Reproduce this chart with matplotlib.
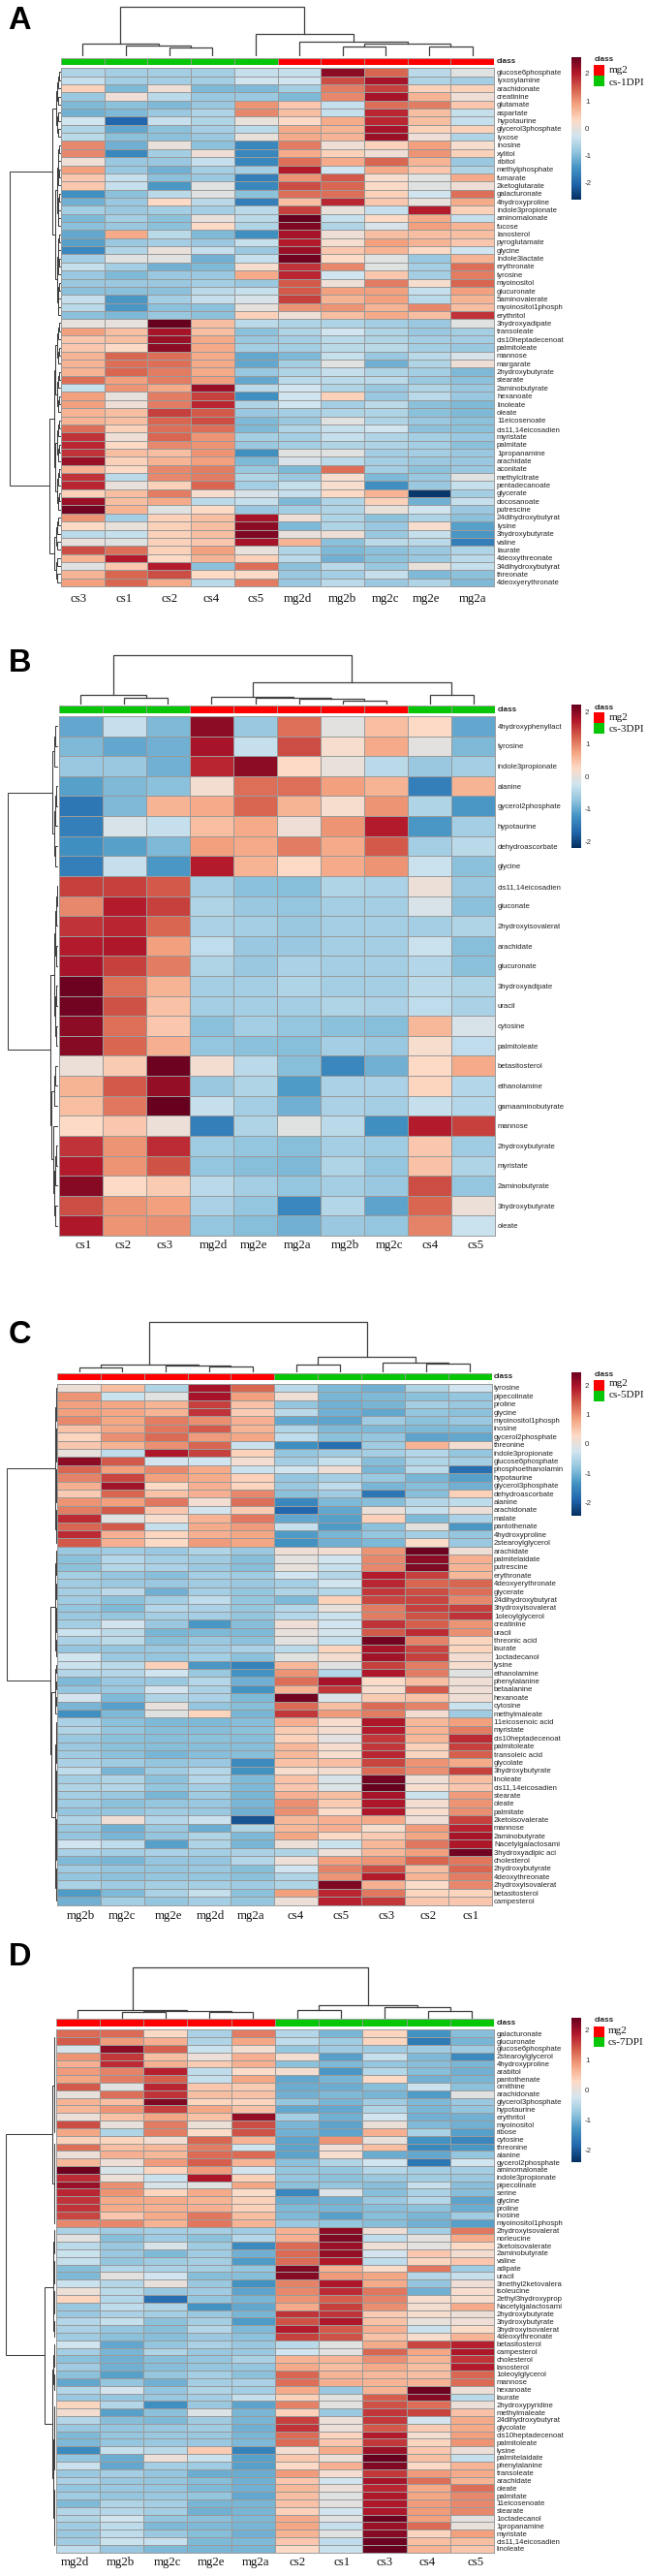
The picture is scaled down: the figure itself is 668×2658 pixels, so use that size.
import numpy as np
import matplotlib
matplotlib.use("Agg")
import matplotlib.pyplot as plt
from matplotlib.colors import LinearSegmentedColormap
from matplotlib.patches import Rectangle

W, H = 668, 2658
SANS = ["Liberation Sans"]
SERIF = ["Liberation Serif"]
RED = "#ff0000"
GREEN = "#06c606"
GRID = "#9a9a9a"
LINE = "#3f3f3f"
# brewer RdBu with 10 classes, this is why zero looks greyish
CMAP = LinearSegmentedColormap.from_list("rb", ["#053061", "#2166ac", "#4393c3", "#92c5de", "#d1e5f0",
                                                "#fddbc7", "#f4a582", "#d6604d", "#b2182b", "#67001f"])

# values were read by colour against the +-2.6 bar of panel A
READ_LIM = 2.6

cols_a = ["cs3", "cs1", "cs2", "cs4", "cs5", "mg2d", "mg2b", "mg2c", "mg2e", "mg2a"]
rows_a = ["glucose6phosphate", "lyxosylamine", "arachidonate", "creatinine", "glutamate", "aspartate",
          "hypotaurine", "glycerol3phosphate", "lyxose", "inosine", "xylitol", "ribitol", "methylphosphate",
          "fumarate", "2ketoglutarate", "galacturonate", "4hydroxyproline", "indole3propionate",
          "aminomalonate", "fucose", "lanosterol", "pyroglutamate", "glycine", "indole3lactate", "erythronate",
          "tyrosine", "myoinositol", "glucuronate", "5aminovalerate", "myoinositol1phosph", "erythritol",
          "3hydroxyadipate", "transoleate", "cis10heptadecenoat", "palmitoleate", "mannose", "margarate",
          "2hydroxybutyrate", "stearate", "2aminobutyrate", "hexanoate", "linoleate", "oleate", "11eicosenoate",
          "cis11,14eicosadien", "myristate", "palmitate", "1propanamine", "arachidate", "aconitate",
          "methylcitrate", "pentadecanoate", "glycerate", "docosanoate", "putrescine", "24dihydroxybutyrat",
          "lysine", "3hydroxybutyrate", "valine", "laurate", "4deoxythreonate", "34dihydroxybutyrat",
          "threonate", "4deoxyerythronate"]
vals_a = [
    [-0.6, -0.7, -0.7, -0.7, -0.4, -0.4, 2.3, 1.4, -0.5, -0.1],
    [-0.4, -0.7, -0.7, -0.7, -0.3, -0.3, 1.6, 2.1, -0.6, -0.7],
    [0.4, -1.0, 0.1, -1.0, -1.0, -0.7, 1.2, 1.7, 0.4, 0.4],
    [-0.8, 0.1, -0.5, -0.8, -0.8, -1.0, 1.1, 2.1, 0.7, 0.1],
    [-1.0, -0.9, -1.0, -0.8, 1.0, 0.5, -0.4, 1.3, 1.2, 0.5],
    [-1.1, -1.0, -0.8, -0.6, 1.1, 0.6, -0.4, 1.9, 0.6, -0.4],
    [-0.3, -2.0, -0.4, -0.6, 0.0, 0.3, 0.8, 1.9, 0.6, -0.4],
    [-0.6, -1.2, -0.9, -0.7, -0.5, 0.8, 0.7, 2.1, 0.4, 0.4],
    [-0.5, -0.9, -0.9, -0.8, 0.0, 0.8, 0.7, 2.2, 0.1, -0.6],
    [1.1, -1.1, 0.0, -0.9, -1.6, 1.2, 0.1, 0.4, 0.9, 0.2],
    [1.1, -1.6, -0.7, 0.1, -1.6, 0.8, 0.4, 0.1, 1.0, 0.4],
    [0.1, -0.8, -0.8, -0.4, -1.6, 1.3, 0.8, 1.4, 0.7, -0.8],
    [0.9, -0.8, -1.1, -0.7, -0.7, 2.0, -0.3, 0.8, 0.5, -0.6],
    [0.5, -0.4, -0.9, -0.8, -1.7, 1.0, 1.5, 0.2, -0.1, 0.8],
    [0.5, -0.4, -1.4, -0.1, -1.6, 1.6, 1.4, 0.3, -0.1, 0.1],
    [-1.5, -0.9, -0.5, -0.1, -0.9, 1.3, 1.3, 0.4, -0.3, 1.3],
    [-1.1, -0.8, 0.3, -0.5, -1.7, 0.6, 1.9, 0.5, 0.0, 0.8],
    [-0.7, -0.8, -0.7, -0.7, -0.5, 1.7, 0.0, -0.4, 2.0, 0.4],
    [-1.0, -0.7, -0.9, 0.0, -0.5, 2.6, -0.4, 0.3, 0.8, -0.4],
    [-0.9, -0.8, -0.9, 0.3, -0.6, 2.4, -0.6, -0.2, 0.9, 0.7],
    [-1.2, 0.8, -0.5, -1.0, -1.5, 2.1, 0.1, 0.6, 0.6, 0.6],
    [-1.3, -0.8, -0.7, -0.8, -0.4, 2.0, 0.2, 0.9, 0.7, 0.5],
    [-1.6, -0.6, 0.0, -0.4, -0.8, 2.2, 0.5, 0.7, 0.3, -0.3],
    [-0.7, -0.1, -0.1, -1.1, -0.4, 2.5, 0.3, -0.1, -0.8, 0.7],
    [-0.4, -0.7, -1.1, -1.0, 0.2, 1.8, 1.1, -0.1, -0.7, 1.3],
    [-0.8, -1.0, -0.8, -0.8, 0.8, 1.9, -0.3, 0.5, -0.7, 1.2],
    [-0.8, -0.8, -0.8, -0.7, -0.8, 1.5, 0.1, 1.2, 0.2, 1.4],
    [-0.9, -0.9, -0.9, -0.5, -0.4, 1.5, 0.9, 0.9, -0.4, 0.9],
    [-0.4, -1.4, -0.7, -0.4, -0.2, 1.7, 0.7, 0.9, -0.5, 0.7],
    [-0.5, -1.4, -0.9, -0.9, 0.0, 1.0, 1.0, 0.7, 1.1, 0.6],
    [-0.9, -1.0, -0.8, -0.9, 0.4, 0.1, 0.6, 0.8, 0.6, 1.8],
    [0.0, 0.0, 2.6, 0.6, -0.5, -0.6, -0.6, -0.7, -0.8, -0.1],
    [0.9, 0.6, 2.1, 0.6, -0.9, -0.6, -0.3, -0.6, -0.8, -0.7],
    [0.5, 0.6, 2.2, 0.8, -0.8, -0.7, -0.5, -0.6, -0.7, -0.7],
    [0.5, 0.3, 2.3, 0.8, -0.7, -0.7, -0.5, -0.5, -0.7, -0.8],
    [0.7, 1.4, 1.3, 0.8, -1.2, -1.0, -0.4, -0.8, -0.5, -0.2],
    [0.7, 1.3, 1.3, 0.8, -1.2, -0.7, -0.1, -1.1, -0.6, 0.1],
    [0.7, 1.4, 1.2, 0.8, -0.8, -0.6, -0.4, -0.6, -0.7, -1.0],
    [1.3, 0.9, 1.2, 0.9, -1.2, -0.5, -0.5, -0.5, -0.8, -0.9],
    [-0.4, 1.0, 0.8, 2.2, -0.5, -0.3, -0.6, -0.8, -0.6, -0.8],
    [0.9, 0.0, 1.2, 1.7, -1.5, -0.3, 0.4, -0.8, -0.5, -0.8],
    [0.9, 0.1, 1.2, 1.9, -0.6, -0.3, -0.7, -0.5, -0.9, -1.0],
    [0.7, 0.6, 1.7, 1.5, -0.8, -0.7, -0.6, -0.6, -0.9, -1.0],
    [0.7, 0.6, 1.4, 1.6, -1.0, -0.8, -0.1, -0.6, -0.8, -0.9],
    [1.3, 0.4, 1.3, 1.3, -1.0, -0.6, -0.4, -0.3, -0.9, -0.9],
    [1.8, 0.1, 1.4, 1.0, -0.7, -0.7, -0.4, -0.6, -0.7, -0.8],
    [1.9, 0.3, 1.1, 1.0, -0.8, -0.7, -0.6, -0.6, -0.7, -0.9],
    [1.8, 0.6, 0.6, 1.0, -1.5, -0.1, -0.1, -0.7, -0.7, -0.8],
    [2.2, 0.4, 0.7, 0.9, -1.0, -0.2, -0.5, -0.7, -0.8, -0.8],
    [0.7, 0.3, 1.1, 1.2, -0.8, -1.0, 1.3, -0.7, -0.9, -0.8],
    [1.8, -0.5, 1.1, 1.2, -0.6, -0.8, 0.2, -1.0, -0.8, -0.1],
    [1.9, 0.0, 0.4, 1.4, -0.7, -0.4, 0.2, -1.5, -0.8, -0.4],
    [0.4, 0.6, 1.2, 0.2, -0.2, -0.4, 0.3, 0.7, -2.5, -0.7],
    [2.2, 0.6, 0.8, -0.5, -0.4, -1.0, -0.6, 0.4, -1.1, -0.4],
    [2.5, 0.7, -0.1, 0.3, -0.8, -0.7, -0.6, 0.0, -0.3, -0.8],
    [1.0, -0.7, 0.4, 0.6, 2.1, 0.1, -0.6, -0.9, -0.6, -0.9],
    [0.3, 0.0, 0.4, 0.6, 2.3, -1.0, -0.6, -0.8, 0.2, -1.3],
    [-0.5, -0.4, 0.4, 0.6, 2.4, 0.0, 0.1, -0.8, -0.4, -1.4],
    [0.0, -0.1, 0.4, 0.5, 2.1, 0.7, -0.9, -0.5, -0.5, -1.7],
    [1.6, 1.3, 0.4, 0.9, 0.0, -0.6, -1.0, -0.9, -0.8, -0.6],
    [0.7, 2.0, 0.3, 0.7, 0.4, -0.5, -1.1, -0.9, -0.8, -0.5],
    [-0.1, 0.5, 2.0, -0.9, 1.3, -0.9, -0.5, -0.8, 0.0, -0.4],
    [0.7, 1.4, 1.6, 0.3, 0.3, -0.8, -0.7, -0.4, -1.0, -0.9],
    [0.9, 1.4, 0.8, -0.5, 1.2, -0.8, -0.5, -0.8, -0.6, -1.0],
]

cols_b = ["cs1", "cs2", "cs3", "mg2d", "mg2e", "mg2a", "mg2b", "mg2c", "cs4", "cs5"]
rows_b = ["4hydroxyphenyllact", "tyrosine", "indole3propionate", "alanine", "gycerol2phosphate", "hypotaurine",
          "dehydroascorbate", "glycine", "cis11,14eicosadien", "gluconate", "2hydroxyisovalerat", "arachidate",
          "glucuronate", "3hydroxyadipate", "uracil", "cytosine", "palmitoleate", "betasitosterol", "ethanolamine",
          "gamaaminobutyrate", "mannose", "2hydroxybutyrate", "myristate", "2aminobutyrate", "3hydroxybutyrate",
          "oleate"]
vals_b = [
    [-1.2, -0.4, -1.0, 2.3, -0.8, 1.3, -0.05, 0.6, 0.3, -1.2],
    [-1.0, -1.2, -1.1, 2.1, -0.4, 1.6, 0.2, 0.8, -0.05, -1.0],
    [-0.8, -0.8, -1.1, 1.9, 2.3, 0.3, 0.0, -0.5, -0.8, -0.7],
    [-1.3, -1.0, -0.9, 0.15, 1.3, 1.3, 0.9, 0.7, -1.7, 0.7],
    [-1.8, -1.0, 0.7, 0.8, 1.4, 0.7, 0.2, 1.0, -0.6, -1.4],
    [-1.7, -0.2, -0.4, 0.6, 0.8, 0.1, 1.0, 2.0, -1.4, -0.7],
    [-1.5, -1.3, -1.0, 0.9, 0.8, 1.2, 0.8, 1.5, -0.7, -0.5],
    [-1.7, -0.4, -1.4, 2.0, 0.7, 0.3, 0.8, 1.0, -0.35, -0.9],
    [1.7, 1.7, 1.5, -0.7, -0.9, -0.95, -0.6, -0.65, 0.05, -0.8],
    [1.1, 2.0, 1.7, -0.6, -0.8, -0.85, -0.7, -0.7, -0.2, -0.9],
    [1.8, 1.9, 1.4, -0.65, -0.7, -0.8, -0.7, -0.7, -0.7, -0.6],
    [2.0, 2.05, 0.9, -0.45, -0.8, -0.8, -0.7, -0.7, -0.35, -0.95],
    [2.1, 1.7, 1.2, -0.6, -0.8, -0.65, -0.7, -0.7, -0.55, -0.9],
    [2.55, 1.3, 0.7, -0.7, -0.7, -0.6, -0.7, -0.7, -0.5, -0.6],
    [2.5, 1.55, 0.55, -0.7, -0.7, -0.7, -0.6, -0.65, -0.45, -0.65],
    [2.3, 1.3, 0.5, -0.9, -0.7, -0.85, -0.9, -0.95, 0.65, -0.2],
    [2.35, 1.4, 0.75, -0.85, -0.9, -0.95, -0.7, -0.8, 0.2, -0.45],
    [0.05, 0.45, 2.55, 0.15, -0.5, -0.95, -1.6, -1.1, 0.3, 0.8],
    [0.7, 1.5, 2.25, -0.8, -0.6, -1.35, -0.65, -0.65, 0.35, -0.55],
    [0.6, 1.25, 2.6, -0.4, -0.7, -1.1, -0.65, -0.7, -0.4, -0.55],
    [0.3, 0.5, 0.05, -1.7, -0.6, -0.1, -0.5, -1.5, 2.0, 1.7],
    [1.8, 1.0, 1.85, -0.75, -0.85, -0.95, -0.7, -0.75, 0.5, -0.75],
    [2.0, 1.0, 1.55, -0.85, -0.95, -1.0, -0.6, -0.85, 0.55, -0.6],
    [2.35, 0.3, 0.45, -0.5, -0.7, -0.85, -0.7, -0.8, 1.6, -0.85],
    [1.6, 1.0, 0.9, -0.65, -0.85, -1.6, -0.55, -1.25, 1.4, 0.05],
    [2.05, 1.0, 1.05, -0.85, -0.95, -1.1, -0.8, -0.85, 1.15, -0.35],
]

cols_c = ["mg2b", "mg2c", "mg2e", "mg2d", "mg2a", "cs4", "cs5", "cs3", "cs2", "cs1"]
rows_c = ["tyrosine", "pipecolinate", "proline", "glycine", "myoinositol1phosph", "inosine", "gycerol2phosphate",
          "threonine", "indole3propionate", "glucose6phosphate", "phosphoethanolamin", "hypotaurine",
          "glycerol3phosphate", "dehydroascorbate", "alanine", "arachidonate", "malate", "pantothenate",
          "4hydroxyproline", "2stearoylglycerol", "arachidate", "palmitelaidate", "putrescine", "erythronate",
          "4deoxyerythronate", "glycerate", "24dihydroxybutyrat", "3hydroxyisovalerat", "1oleoylglycerol",
          "creatinine", "uracil", "threonic acid", "laurate", "1octadecanol", "lysine", "ethanolamine",
          "phenylalanine", "betaalanine", "hexanoate", "cytosine", "methylmaleate", "11eicosenoic acid", "myristate",
          "cis10heptadecenoat", "palmitoleate", "transoleic acid", "glycolate", "3hydroxybutyrate", "linoleate",
          "cis11,14eicosadien", "stearate", "oleate", "palmitate", "2ketoisovalerate", "mannose", "2aminobutyrate",
          "Nacetylgalactosami", "3hydroxyadipic aci", "cholesterol", "2hydroxybutyrate", "4deoxythreonate",
          "2hydroxyisovalerat", "betasitosterol", "campesterol"]
vals_c = [
    [0.05, 0.6, -0.6, 2.1, 1.4, -0.5, -1.0, -1.1, -0.6, -0.3],
    [1.0, -0.35, -0.1, 2.1, 0.9, 0.1, -1.05, -1.0, -0.9, -0.85],
    [0.9, 0.85, 0.7, 1.7, 0.55, -0.85, -1.1, -1.05, -0.7, -0.8],
    [0.9, 0.85, 0.7, 1.8, 0.45, -0.5, -1.1, -1.2, -0.85, -0.9],
    [1.1, 0.85, 1.2, 1.05, 0.75, -1.2, -1.25, -0.75, -0.9, -0.8],
    [0.55, 0.85, 1.25, 1.5, 0.7, -0.6, -1.0, -1.0, -1.0, -1.0],
    [0.35, 1.05, 1.35, 0.95, 0.85, -0.45, -0.9, -0.85, -1.25, -1.2],
    [0.5, 0.7, 1.05, 1.4, -0.35, -1.5, -1.9, -0.75, 0.7, 0.15],
    [0.0, -0.45, 2.05, 1.7, 0.4, -0.85, -0.75, -0.7, -0.55, -0.85],
    [2.3, 1.5, -0.25, -0.3, 0.15, -0.7, -0.4, -0.95, -0.6, -0.7],
    [1.4, 0.9, 1.1, 0.8, -0.35, -0.3, 0.1, -1.05, -0.5, -1.9],
    [1.15, 1.65, 0.9, 0.8, 0.4, -0.85, -0.7, -0.8, -1.05, -1.3],
    [0.75, 2.15, 0.3, 0.75, 0.35, -0.8, -0.45, -1.05, -0.95, -1.1],
    [0.45, 1.4, 0.55, 0.75, 1.1, -0.9, -0.75, -1.8, -0.95, 0.4],
    [1.0, 0.9, 1.25, 0.15, 1.3, -1.6, -1.0, -0.95, -0.55, -0.45],
    [1.2, 1.5, 0.5, -0.25, 0.45, -2.0, -1.2, 0.05, -0.4, 0.05],
    [1.85, -0.1, 0.2, 0.7, 1.25, -1.2, -1.3, 0.4, -1.0, -0.65],
    [1.4, 1.5, -0.4, 0.8, 0.95, -0.4, -1.35, -0.9, -0.05, -1.4],
    [1.85, 0.75, 0.35, 0.75, 0.85, -1.35, -1.05, -0.85, -0.7, -0.85],
    [1.5, 0.75, 0.3, 0.95, 0.85, -1.45, -1.1, -1.0, 0.25, -0.8],
    [-0.8, -0.75, -0.8, -0.6, -0.8, 0.1, 0.15, 1.0, 2.55, 0.1],
    [-0.9, -0.55, -0.7, -0.75, -0.95, -0.05, -0.3, 1.1, 2.3, 0.75],
    [-0.9, -0.55, -0.65, -0.8, -0.95, 0.0, -0.4, 1.1, 2.4, 0.7],
    [-0.7, -0.85, -0.95, -0.7, -0.75, -0.3, -0.55, 2.0, 1.7, 0.65],
    [-0.75, -0.8, -0.8, -0.75, -0.8, -0.7, -0.3, 1.9, 1.4, 1.4],
    [-0.7, -0.5, -1.1, -0.7, -0.85, -0.6, -0.55, 1.75, 1.6, 1.3],
    [-0.75, -0.9, -0.7, -0.45, -0.85, -1.0, 0.4, 1.65, 1.65, 1.1],
    [-0.85, -1.0, -0.55, -0.65, -0.85, -0.55, 0.0, 1.2, 1.7, 1.7],
    [-0.8, -0.85, -0.7, -0.7, -0.85, -0.55, -0.35, 1.2, 1.55, 1.8],
    [-0.7, -0.25, -0.8, -1.4, -0.95, 0.1, -0.3, 1.8, 1.45, 1.0],
    [-0.35, -0.5, -1.05, -1.0, -1.0, 0.0, -0.25, 1.5, 1.85, 1.05],
    [-0.65, -0.5, -0.95, -0.8, -0.9, -0.05, -0.4, 2.5, 1.15, 0.35],
    [-0.85, -0.85, -0.8, -0.75, -0.65, -0.5, 0.35, 2.1, 1.65, 0.35],
    [-0.3, -0.8, -0.85, -0.7, -0.9, -0.1, 0.15, 2.15, 1.7, 0.15],
    [-0.35, -0.5, 0.4, -1.4, -1.65, 0.65, -0.1, 1.7, 1.2, 0.2],
    [-0.55, -0.55, -0.3, -0.8, -1.45, 1.0, -0.55, 2.05, 1.2, -0.1],
    [-1.0, -0.8, -0.8, -0.55, -1.1, 1.3, 2.1, 0.25, 0.6, 0.1],
    [-0.85, -0.8, -0.25, -0.65, -1.45, 0.7, 1.75, 0.2, 1.5, 0.1],
    [-0.25, -1.0, -0.6, -0.65, -1.0, 2.5, -0.15, 0.45, 0.55, 0.1],
    [-1.05, -1.3, 0.0, -0.85, -0.95, 1.35, 0.6, 1.35, 1.15, -0.35],
    [-1.5, -1.0, -0.1, 0.35, -1.05, 1.75, 0.95, 1.2, 0.15, -0.75],
    [-0.65, -0.9, -1.0, -1.0, -0.95, 0.75, 0.2, 2.05, 0.65, 0.9],
    [-0.6, -0.85, -0.95, -0.95, -0.9, 0.45, 0.15, 2.0, 0.7, 1.2],
    [-0.8, -0.9, -0.95, -0.9, -0.95, 0.4, -0.05, 1.75, 0.65, 1.85],
    [-0.8, -0.9, -0.95, -0.95, -0.95, 0.65, 0.2, 1.75, 0.4, 1.7],
    [-0.75, -0.9, -1.05, -0.95, -0.95, 0.65, 0.2, 1.9, 0.35, 1.45],
    [-0.65, -0.75, -0.85, -0.8, -1.55, 0.55, 0.6, 1.65, 1.0, 0.8],
    [-0.45, -1.05, -0.75, -0.55, -1.45, 0.2, 0.15, 1.35, 1.05, 1.7],
    [-0.7, -0.6, -0.9, -0.55, -1.0, 0.55, -0.2, 2.5, 0.1, 0.6],
    [-0.6, -0.55, -0.85, -0.7, -1.0, 0.5, -0.15, 2.6, 0.2, 0.5],
    [-0.7, -0.8, -1.05, -0.75, -1.05, 0.75, 0.6, 2.1, -0.35, 0.95],
    [-0.75, -0.9, -0.85, -0.8, -1.05, 1.05, 0.45, 2.05, 0.15, 1.0],
    [-0.85, -0.85, -0.75, -0.8, -1.1, 1.05, 0.25, 2.05, 0.2, 1.05],
    [-0.6, 0.1, -0.55, -0.35, -2.2, 0.65, 0.75, 0.8, 0.1, 1.7],
    [-0.8, -1.1, -0.8, -1.15, -0.6, 0.65, 0.75, 0.2, 0.95, 1.95],
    [-0.85, -1.05, -0.85, -0.6, -1.0, 0.85, 0.3, 0.45, 0.85, 2.1],
    [-0.3, -0.45, -1.3, -0.6, -1.05, 0.05, -0.35, 0.65, 1.25, 2.05],
    [-0.65, -0.7, -0.65, -0.7, -0.65, -0.6, 0.05, 0.65, 0.9, 2.5],
    [-1.0, -1.05, -0.85, -0.85, -0.55, 0.05, 0.9, 1.0, 1.4, 1.25],
    [-0.75, -0.85, -0.85, -0.8, -0.95, -0.3, 1.15, 1.6, 0.6, 1.4],
    [-0.85, -0.9, -0.85, -0.85, -0.9, -0.6, 1.0, 2.0, 0.7, 1.2],
    [-0.65, -0.75, -0.7, -0.7, -0.75, -0.6, 2.4, 0.75, 0.25, 1.1],
    [-1.35, -1.0, -0.65, -0.4, -0.9, 0.9, 1.9, 1.25, 0.35, 0.35],
    [-1.1, -0.7, -0.85, -0.7, -0.85, 0.05, 1.95, 1.75, 0.5, 0.5],
]

cols_d = ["mg2d", "mg2b", "mg2c", "mg2e", "mg2a", "cs2", "cs1", "cs3", "cs4", "cs5"]
rows_d = ["galacturonate", "glucuronate", "glucose6phosphate", "2stearoylglycerol", "4hydroxyproline", "arabitol",
          "pantothenate", "ornithine", "arachidonate", "glycerol3phosphate", "hypotaurine", "erythritol",
          "myoinositol", "ribose", "cytosine", "threonine", "alanine", "gycerol2phosphate", "aminomalonate",
          "indole3propionate", "pipecolinate", "serine", "glycine", "proline", "inosine", "myoinositol1phosph",
          "2hydroxyisovalerat", "norleucine", "2ketoisovalerate", "2aminobutyrate", "valine", "adipate", "uracil",
          "3methyl2ketovalera", "isoleucine", "2ethyl3hydroxyprop", "Nacetylgalactosami", "2hydroxybutyrate",
          "3hydroxybutyrate", "3hydroxyisovalerat", "4deoxythreonate", "betasitosterol", "campesterol",
          "cholesterol", "lanosterol", "1oleoylglycerol", "mannose", "hexanoate", "laurate", "2hydroxypyridine",
          "methylmaleate", "24dihydroxybutyrat", "glycolate", "cis10heptadecenoat", "palmitoleate", "lysine",
          "palmitelaidate", "phenylalanine", "transoleate", "arachidate", "oleate", "palmitate", "11eicosenoate",
          "stearate", "1octadecanol", "1propanamine", "myristate", "cis11,14eicosadien", "linoleate"]
vals_d = [
    [1.35, 1.35, 0.3, -0.65, 1.2, -0.55, -1.05, 0.35, -1.45, -0.95],
    [1.5, 0.95, 0.75, -0.6, 0.85, -0.45, -0.75, 0.35, -1.75, -1.05],
    [-0.2, 2.3, 1.45, -0.35, 0.15, -0.85, -0.75, -0.75, -0.75, -0.75],
    [1.0, 1.75, 0.6, 0.05, 0.75, 0.15, -1.3, -0.4, -1.0, -1.55],
    [0.75, 1.85, 0.75, 0.45, 0.75, -0.9, -1.0, -0.85, -0.95, -1.05],
    [0.95, 1.15, 1.95, -0.45, 0.25, 0.15, -1.4, -0.55, -0.95, -1.1],
    [0.85, 1.2, 1.45, -0.4, 0.85, -1.2, -1.05, 0.3, -1.1, -1.05],
    [1.5, -0.1, 1.9, 0.5, 0.45, -1.15, -1.15, -0.95, -0.35, -0.9],
    [0.0, 1.3, 1.8, 0.6, 0.55, -1.1, -1.0, -1.05, -1.35, -0.1],
    [0.7, 0.6, 2.4, 0.35, 0.35, -0.85, -1.05, -0.75, -1.0, -0.8],
    [0.65, 1.0, 1.7, 0.85, 0.55, -1.2, -1.2, -0.6, -1.05, -0.85],
    [0.05, 0.55, 0.85, 0.55, 2.25, -0.7, -1.1, -0.3, -1.1, -1.1],
    [1.6, 0.0, 1.2, 0.05, 1.6, -1.05, -1.25, 0.05, -1.0, -1.1],
    [0.85, -0.6, 1.2, 0.25, 1.55, -1.1, -1.25, 0.75, -0.65, -1.3],
    [0.4, 0.35, 0.15, 1.4, 0.7, -1.25, 1.0, 0.0, -1.45, -1.6],
    [1.3, 0.6, 0.65, 1.2, -0.3, -1.25, 0.1, 0.6, -1.6, -1.4],
    [0.05, 0.75, 0.65, 1.35, 1.35, -1.25, 0.2, -1.15, -1.2, -0.85],
    [0.65, 0.1, 0.95, 1.45, 0.7, -0.9, -0.6, -0.3, -1.8, -0.3],
    [2.55, -0.2, 0.35, 0.95, -0.25, -0.85, -0.85, -0.55, -0.7, -0.7],
    [1.85, 0.05, -0.35, 2.05, 0.4, -0.85, -0.9, -0.8, -0.75, -0.8],
    [2.2, 1.05, -0.2, -0.1, 0.85, -0.9, -0.85, -0.95, -0.4, -0.95],
    [1.9, 1.0, 0.35, 0.8, 0.25, -1.6, -0.15, -0.95, -0.65, -0.95],
    [1.8, 0.8, 0.8, 0.7, 0.4, -1.15, -1.1, -0.8, -0.55, -1.25],
    [1.8, 0.8, 0.75, 0.75, 0.4, -1.0, -1.05, -0.95, -0.9, -1.15],
    [1.65, 0.5, 0.8, 1.25, 0.6, -1.0, -1.3, -0.95, -1.05, -0.75],
    [1.1, 1.1, 0.7, 1.25, 0.7, -0.8, -0.85, -0.95, -1.1, -1.3],
    [-0.65, -0.75, -0.7, -0.7, -0.75, 0.75, 2.3, 0.1, -0.7, 1.25],
    [-0.05, -0.95, -0.75, -0.9, -0.55, 0.75, 2.4, -0.45, -0.05, 0.8],
    [-0.5, -0.8, -0.2, -0.75, -1.55, 1.35, 2.2, 0.1, -0.05, 0.3],
    [-0.35, -0.8, -1.0, -0.75, -1.1, 1.35, 2.25, -0.25, 0.5, 0.15],
    [-0.4, -0.85, -0.75, -0.7, -1.35, 1.35, 2.05, -0.45, 0.35, 0.5],
    [-0.95, -0.55, -0.65, -0.7, -0.85, 2.4, 0.75, 0.25, 1.25, -0.75],
    [-1.0, -0.05, -0.3, -0.95, -0.95, 2.35, 0.95, 0.85, -0.55, -0.4],
    [-0.35, -0.55, 0.0, -0.8, -1.45, 1.15, 2.05, 0.8, -0.85, 0.1],
    [0.05, -0.5, -0.8, -0.75, -1.25, 1.1, 1.85, 1.25, -1.1, 0.2],
    [0.35, -0.55, -1.9, -0.85, -1.05, 1.0, 1.45, 1.15, 0.2, 0.2],
    [-0.8, -0.45, -0.6, -1.45, -1.2, 0.8, 1.7, 1.05, 0.15, 0.8],
    [-0.8, -0.65, -0.7, -0.8, -1.05, 1.8, 1.8, 0.45, 0.2, 0.05],
    [-0.55, -0.4, -0.9, -0.7, -1.35, 1.55, 2.05, 0.55, 0.0, 0.1],
    [-0.65, -0.85, -0.95, -0.55, -1.0, 2.0, 1.5, 0.75, -0.35, 0.25],
    [-0.75, -0.9, -0.95, -0.8, -0.9, 1.7, 1.55, 0.55, 0.2, 0.7],
    [-0.3, -1.2, -0.85, -0.65, -0.8, -0.5, -0.1, 0.8, 1.65, 1.95],
    [-0.7, -1.05, -0.6, -0.8, -0.8, -0.3, -0.05, 1.4, 0.85, 2.05],
    [-0.9, -1.1, -0.95, -0.85, -0.65, 0.7, 0.7, 1.05, 0.7, 1.8],
    [-0.75, -1.1, -0.95, -0.85, -0.85, 0.8, 0.6, 0.8, 0.6, 2.0],
    [-0.9, -1.3, -0.85, -0.7, -0.9, 1.4, 0.7, 0.65, 0.6, 1.4],
    [-1.2, -0.85, -1.1, -0.7, -0.65, 1.3, 0.75, 0.7, 0.7, 1.35],
    [-0.55, -0.25, -0.85, -0.6, -0.7, 0.8, -0.8, 0.7, 2.55, 0.05],
    [-0.8, -0.85, -0.8, -0.7, -0.4, 0.4, -0.05, 1.45, 2.35, -0.5],
    [0.35, -0.55, -1.5, -0.8, -1.25, 1.15, -0.05, 1.55, 1.3, 0.05],
    [0.15, -1.3, -0.9, -0.15, -1.05, 0.4, -0.8, 1.75, 1.65, 0.55],
    [-0.55, -0.95, -1.0, -0.75, -1.05, 1.7, 0.05, 1.75, -0.25, 0.8],
    [-0.8, -0.85, -0.8, -0.75, -1.1, 1.8, 0.05, 1.5, 0.45, 0.8],
    [-1.0, -0.85, -0.8, -0.8, -1.05, 1.35, 0.35, 2.0, 0.15, 0.9],
    [-1.0, -0.85, -0.8, -0.8, -1.0, 1.35, 0.5, 1.75, 0.35, 1.0],
    [-1.55, -0.4, -0.5, 0.45, -1.65, 0.15, 0.8, 2.2, 0.5, 0.05],
    [-0.85, -1.15, 0.05, -0.35, -1.3, 0.5, 0.05, 2.6, 0.6, -0.4],
    [-0.35, -1.2, -0.7, -0.75, -1.3, 0.3, 0.75, 2.4, 0.3, 0.7],
    [-0.8, -0.7, -0.85, -1.15, -1.15, 0.95, 0.15, 1.75, 0.95, 0.8],
    [-0.65, -0.8, -0.85, -0.95, -1.1, 0.5, -0.3, 2.1, 1.3, 0.7],
    [-0.85, -0.8, -0.85, -1.0, -1.1, 0.65, 0.05, 1.9, 0.8, 1.3],
    [-0.75, -0.85, -0.8, -0.85, -1.2, 0.6, -0.1, 2.05, 0.85, 1.1],
    [-1.0, -0.6, -0.7, -1.05, -1.05, 0.55, -0.05, 2.05, 0.95, 1.1],
    [-0.55, -0.55, -0.7, -1.1, -1.05, 0.4, -0.3, 2.05, 0.95, 1.1],
    [-0.6, -0.3, -0.85, -0.9, -1.0, 0.8, -0.1, 2.55, 0.9, -0.05],
    [-0.75, -0.45, -1.0, -1.0, -1.05, 0.85, -0.4, 2.2, 1.35, 0.0],
    [-0.8, -0.45, -0.8, -0.95, -1.1, 0.7, -0.1, 2.35, 0.35, 0.9],
    [-0.75, -0.35, -0.4, -1.0, -1.0, 0.5, -0.45, 2.55, 0.6, 0.6],
    [-0.45, -0.8, -1.0, -1.05, -1.05, 0.3, -0.35, 2.6, 0.7, 0.5],
]

# column trees: (child, child, height in px); leaves 0-9, then 10, 11... like scipy linkage
tree_a = [(2, 3, 9.7), (1, 10, 11.3), (0, 11, 13), (6, 7, 10), (8, 9, 10.3), (13, 14, 13.7), (5, 15, 15),
          (4, 16, 23), (12, 17, 51.3)]
tree_b = [(1, 2, 7.7), (0, 10, 10.7), (6, 7, 4), (5, 12, 6), (4, 13, 7.3), (3, 14, 8.7), (8, 9, 10), (15, 16, 23),
          (11, 17, 51.7)]
tree_c = [(0, 1, 5), (3, 4, 6), (2, 11, 6.7), (10, 12, 8), (5, 6, 8), (8, 9, 8.7), (7, 15, 9.7), (14, 16, 16.3),
          (13, 17, 52)]
tree_d = [(1, 2, 6.3), (3, 4, 7), (10, 11, 8), (0, 12, 8.7), (5, 6, 8.3), (8, 9, 8), (7, 15, 11.3), (14, 16, 13.7),
          (13, 17, 52.3)]

# row trees: (height, a, b) with a, b subtrees, or two ints for a block of rows whose small merges were not readable
rtree_a = (52.2, (8.6, (4.3, 0, 8), (5.5, 9, 30)), (11.1, (7, 31, 54), (6.4, 55, 63)))
rtree_b = (52.2, (5.9, (3.9, 0, 2), (3.9, 3, 7)),
           (8.5, (4.5, 8, 16), (7, (3.9, 17, 19), (5.8, (0, 20, 20), (4.5, 21, 25)))))
rtree_c = (51.8, (1.7, (1.3, 0, 9), (1.3, 10, 19)), (6.8, (1.9, 20, 33), (5.5, (1.9, 34, 40), (1.7, 41, 63))))
rtree_d = (51.4, (3, (1.7, 0, 13), (1.7, 14, 25)), (11.6, (2.6, 26, 40), (3.5, (1.9, 41, 47), (1.9, 48, 68))))

# layout in picture pixels
panels = [
    dict(name="A", cols=cols_a, rows=rows_a, vals=vals_a, tree=tree_a, rtree=rtree_a, tag="cs-1DPI", lim=2.6,
         heat=(63, 70.3, 510, 605), bar=(60, 67.3), base=58.3, row_x=513,
         xlab=[81, 128, 175, 218, 264, 307, 353, 398, 440, 488], xlab_y=617.7,
         cbar=(59, 205.7), letter=(8, 30), leg_y=(61.7, 67, 78, 88.7, 72.3, 85), leg_tx=628.3),
    dict(name="B", cols=cols_b, rows=rows_b, vals=vals_b, tree=tree_b, rtree=rtree_b, tag="cs-3DPI", lim=2.2,
         heat=(60.8, 739, 511.3, 1275), bar=(728.3, 736), base=727.3, row_x=514,
         xlab=[86, 127, 170, 220, 262, 307, 356, 402, 444, 491], xlab_y=1285,
         cbar=(727.3, 875), letter=(9, 693.3), leg_y=(730, 735.3, 746.3, 757.3, 740.7, 752.7), leg_tx=628.3),
    dict(name="C", cols=cols_c, rows=rows_c, vals=vals_c, tree=tree_c, rtree=rtree_c, tag="cs-5DPI", lim=2.45,
         heat=(59.1, 1427.7, 507.5, 1965.7), bar=(1417, 1424.3), base=1416, row_x=510,
         xlab=[83.5, 125.5, 174, 217, 259, 305, 352, 399, 442, 486], xlab_y=1976.7,
         cbar=(1415.7, 1564), letter=(9, 1386), leg_y=(1418.7, 1424, 1435, 1446, 1427, 1439.7), leg_tx=628.3),
    dict(name="D", cols=cols_d, rows=rows_d, vals=vals_d, tree=tree_d, rtree=rtree_d, tag="cs-7DPI", lim=2.41,
         heat=(57.8, 2094.3, 510, 2633.7), bar=(2083.3, 2091.3), base=2082.7, row_x=512.6,
         xlab=[77.5, 124, 173, 218, 264, 307, 353, 397, 441, 491], xlab_y=2644,
         cbar=(2082.3, 2231), letter=(9, 2028.3), leg_y=(2085, 2090.7, 2101.7, 2112.3, 2095.3, 2107.3), leg_tx=627.4),
]


def px_axes(x0, y0, x1, y1):
    # y counted from the top of the picture
    ax = fig.add_axes([x0 / W, 1 - y1 / H, (x1 - x0) / W, (y1 - y0) / H])
    ax.set_axis_off()
    return ax


def draw_col_tree(ax, merges, n=10):
    pos = {i: (i + 0.5, 0) for i in range(n)}
    for k, (a, b, h) in enumerate(merges):
        xa, ha = pos[a]
        xb, hb = pos[b]
        ax.plot([xa, xa, xb, xb], [ha, h, h, hb], color=LINE, lw=0.9, solid_joinstyle="miter")
        pos[n + k] = ((xa + xb) / 2, h)


def draw_row_tree(ax, node):
    h, a, b = node
    if isinstance(a, int):
        if a == b:
            return a + 0.5, 0
        mid = (a + b) // 2
        a, b = (h * 0.72, a, mid), (h * 0.72, mid + 1, b)
    ya, ha = draw_row_tree(ax, a)
    yb, hb = draw_row_tree(ax, b)
    ax.plot([ha, h, h, hb], [ya, ya, yb, yb], color=LINE, lw=0.75, solid_joinstyle="miter")
    return (ya + yb) / 2, h


fig = plt.figure(figsize=(W / 100, H / 100), dpi=100, facecolor="white")
page = fig.add_axes([0, 0, 1, 1], zorder=5)
page.set_xlim(0, W)
page.set_ylim(H, 0)
page.set_axis_off()

for p in panels:
    x0, y0, x1, y1 = p["heat"]
    data = np.array(p["vals"]) * p["lim"] / READ_LIM
    nrow, ncol = data.shape

    ax = px_axes(x0, y0, x1, y1)
    ax.set_axis_on()
    ax.pcolormesh(data, cmap=CMAP, vmin=-p["lim"], vmax=p["lim"], edgecolors=GRID, linewidth=0.7)
    ax.set_xlim(0, ncol)
    ax.set_ylim(nrow, 0)
    ax.set_xticks([])
    ax.yaxis.tick_right()
    ax.set_yticks(np.arange(nrow) + 0.5, p["rows"], family=SANS, fontsize=5.6, color="#222222")
    ax.tick_params(axis="y", length=0, pad=(p["row_x"] - x1) * 0.72)
    for s in ax.spines.values():
        s.set_color(GRID)
        s.set_linewidth(0.7)

    # class strip
    strip = px_axes(x0, p["bar"][0], x1, p["bar"][1])
    strip.set_xlim(0, ncol)
    strip.set_ylim(0, 1)
    for i, c in enumerate(p["cols"]):
        strip.bar(i + 0.5, 1, width=1, color=RED if c.startswith("mg") else GREEN, edgecolor=GRID, linewidth=0.6)
    page.text(p["row_x"], sum(p["bar"]) / 2, "class", family=SANS, fontsize=5.8, weight="bold",
              va="center", color="#222222")

    # column dendrogram
    top_h = max(m[2] for m in p["tree"]) + 1
    dc = px_axes(x0, p["base"] - top_h, x1, p["base"])
    dc.set_xlim(0, ncol)
    dc.set_ylim(0, top_h)
    draw_col_tree(dc, p["tree"])

    # row dendrogram, x scale is px left of the heatmap
    root_h = p["rtree"][0]
    dr = px_axes(x0 - 0.5 - root_h - 1, y0, x0 - 0.5, y1)
    dr.set_xlim(root_h + 1, 0)
    dr.set_ylim(nrow, 0)
    draw_row_tree(dr, p["rtree"])

    # column names sit a little off the cell centres in the original
    for name, xl in zip(p["cols"], p["xlab"]):
        page.text(xl, p["xlab_y"], name, family=SERIF, fontsize=9.3, ha="center", va="center", color="#111111")

    # colour bar
    cb0, cb1 = p["cbar"]
    cb = px_axes(590, cb0, 599.6, cb1)
    cb.set_axis_on()
    grad = np.linspace(p["lim"], -p["lim"], 256).reshape(-1, 1)
    cb.imshow(grad, cmap=CMAP, vmin=-p["lim"], vmax=p["lim"], aspect="auto",
              extent=(0, 1, -p["lim"], p["lim"]))
    cb.set_xticks([])
    cb.yaxis.tick_right()
    cb.set_yticks([-2, -1, 0, 1, 2], ["-2", "-1", "0", "1", "2"], family=SANS, fontsize=5.8, color="#333333")
    cb.tick_params(axis="y", length=0, pad=3.2)
    for s in cb.spines.values():
        s.set_visible(False)

    # legend
    cy, r0, r1, r2, ty0, ty1 = p["leg_y"]
    page.text(613.3, cy, "class", family=SANS, fontsize=5.8, weight="bold", va="center", color="#222222")
    page.add_patch(Rectangle((613.3, r0), 10.2, r1 - r0, color=RED, lw=0))
    page.add_patch(Rectangle((613.3, r1), 10.2, r2 - r1, color=GREEN, lw=0))
    page.text(p["leg_tx"], ty0, "mg2", family=SERIF, fontsize=8, va="center", color="#111111")
    page.text(p["leg_tx"], ty1, p["tag"], family=SERIF, fontsize=8, va="center", color="#111111")

    page.text(p["letter"][0], p["letter"][1], p["name"], family=SANS, fontsize=23.5, weight="bold",
              va="baseline", color="black")

fig.savefig("out.png", dpi=100)
